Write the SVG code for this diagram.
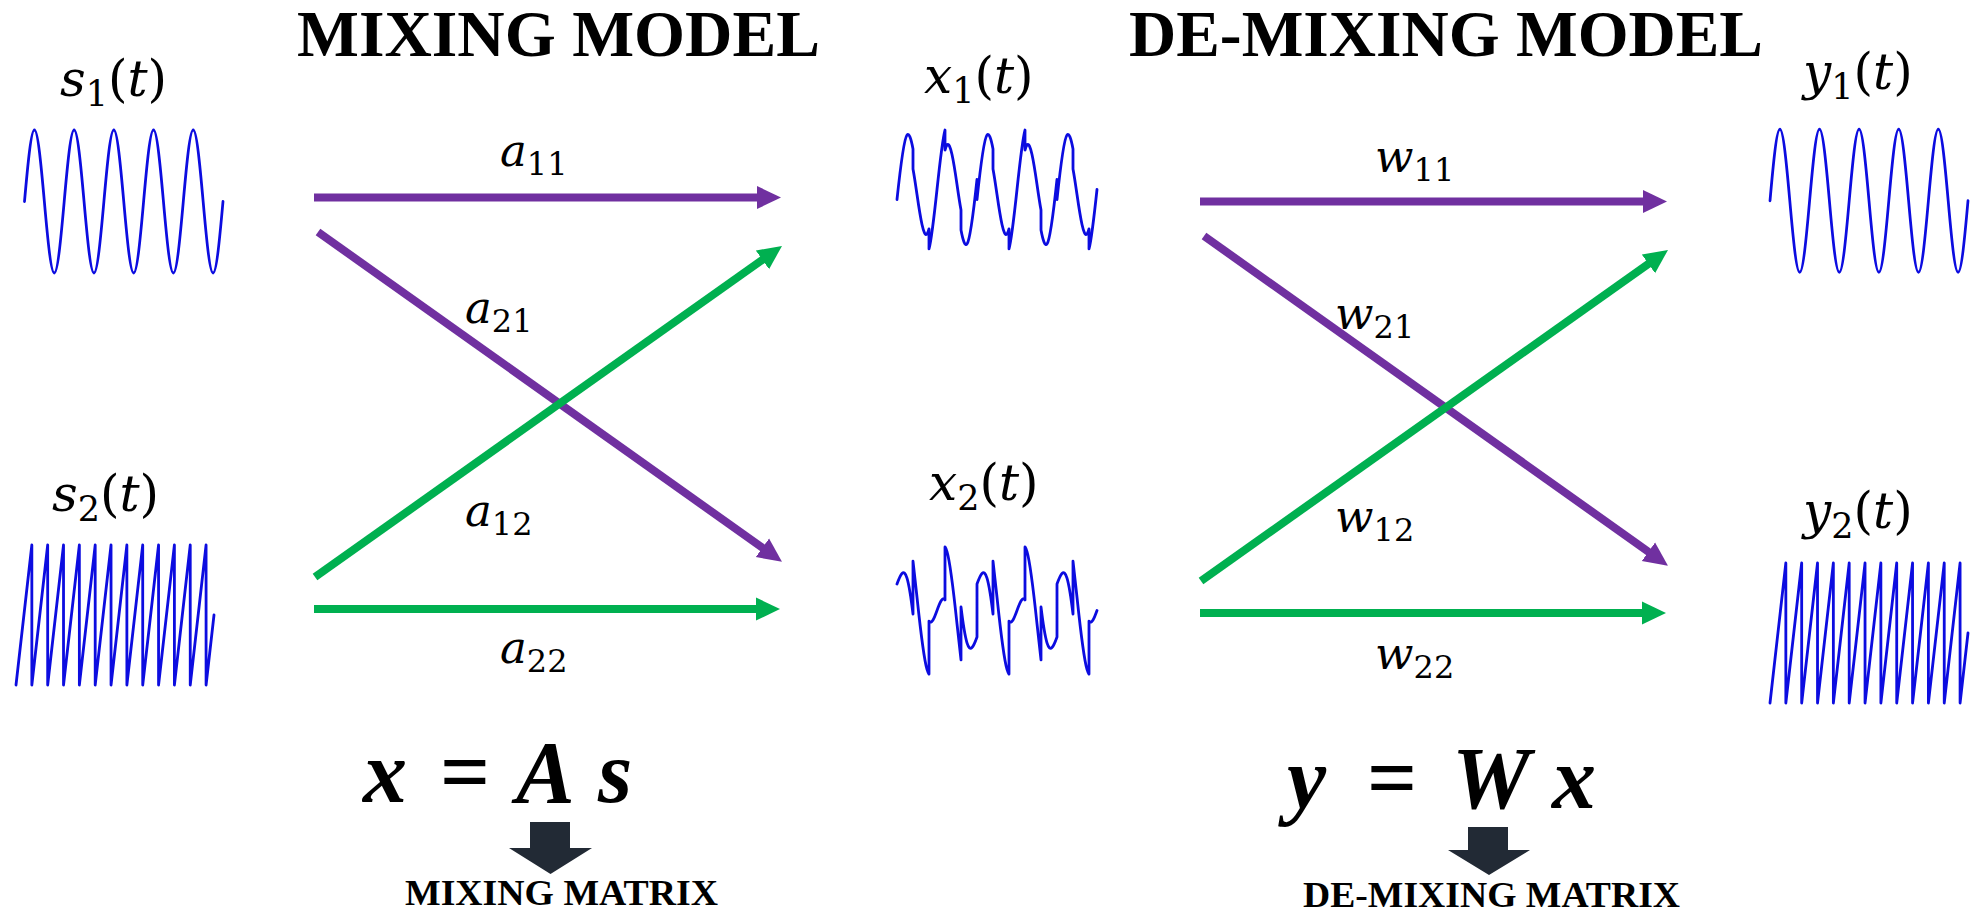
<svg xmlns="http://www.w3.org/2000/svg" width="1972" height="913" viewBox="0 0 1972 913">
<style>
.title{font-family:"Liberation Serif",serif;font-weight:bold;font-size:65px;fill:#000}
.lbl{font-family:"DejaVu Serif",serif;font-size:50px;fill:#000}
.coef{font-family:"DejaVu Serif",serif;font-size:45px;fill:#000}
.it{font-style:italic}
.sub{font-size:35px}
.csub{font-size:32px}
.wave{fill:none;stroke:#0c0ce0;stroke-width:2.8;stroke-linejoin:round;stroke-linecap:round}
.arr{fill:none;stroke-width:8;stroke-linecap:butt}
.pur{stroke:#7030a0}
.grn{stroke:#00b050}
.eq{font-family:"Liberation Serif",serif;font-weight:bold;font-style:italic;font-size:88px;fill:#000}
.eqs{font-family:"Liberation Serif",serif;font-weight:bold;font-size:88px;fill:#000}
.mat{font-family:"Liberation Serif",serif;font-weight:bold;font-size:35px;fill:#000}
.blk{fill:#222a35}
</style>
<defs>
<marker id="hp" markerUnits="userSpaceOnUse" markerWidth="24" markerHeight="24" viewBox="0 0 24 24" refX="12" refY="12" orient="auto"><path d="M0,0.5 L24,12 L0,23.5 z" fill="#7030a0"/></marker>
<marker id="hg" markerUnits="userSpaceOnUse" markerWidth="24" markerHeight="24" viewBox="0 0 24 24" refX="12" refY="12" orient="auto"><path d="M0,0.5 L24,12 L0,23.5 z" fill="#00b050"/></marker>
<path id="sine5" d="M0,0 c3.333,-37.44 6.667,-71.5 10,-71.5 c3.333,0 6.667,34.06 10,71.5 c3.333,37.44 6.667,71.5 10,71.5 c3.333,0 6.667,-34.06 10,-71.5 c3.333,-37.44 6.667,-71.5 10,-71.5 c3.333,0 6.667,34.06 10,71.5 c3.333,37.44 6.667,71.5 10,71.5 c3.333,0 6.667,-34.06 10,-71.5 c3.333,-37.44 6.667,-71.5 10,-71.5 c3.333,0 6.667,34.06 10,71.5 c3.333,37.44 6.667,71.5 10,71.5 c3.333,0 6.667,-34.06 10,-71.5 c3.333,-37.44 6.667,-71.5 10,-71.5 c3.333,0 6.667,34.06 10,71.5 c3.333,37.44 6.667,71.5 10,71.5 c3.333,0 6.667,-34.06 10,-71.5 c3.333,-37.44 6.667,-71.5 10,-71.5 c3.333,0 6.667,34.06 10,71.5 c3.333,37.44 6.667,71.5 10,71.5 c3.333,0 6.667,-34.06 10,-71.5"/>
<path id="saw" d="M0,0 l15.84,-140 v140 l15.84,-140 v140 l15.84,-140 v140 l15.84,-140 v140 l15.84,-140 v140 l15.84,-140 v140 l15.84,-140 v140 l15.84,-140 v140 l15.84,-140 v140 l15.84,-140 v140 l15.84,-140 v140 l15.84,-140 v140 l7.92,-70"/>
</defs>
<rect width="1972" height="913" fill="#fff"/>

<g id="titles">
<text class="title" x="297" y="56" textLength="523" lengthAdjust="spacingAndGlyphs">MIXING MODEL</text>
<text class="title" x="1129" y="56" textLength="634" lengthAdjust="spacingAndGlyphs">DE-MIXING MODEL</text>
</g>

<g id="node-s1">
<text class="lbl" x="60" y="96"><tspan class="it">s</tspan><tspan class="sub" dy="10">1</tspan><tspan dy="-10">(</tspan><tspan class="it">t</tspan>)</text>
<use href="#sine5" class="wave" transform="translate(24.5,201.5) scale(0.9925,1)"/>
</g>
<g id="node-s2">
<text class="lbl" x="52" y="511"><tspan class="it">s</tspan><tspan class="sub" dy="10">2</tspan><tspan dy="-10">(</tspan><tspan class="it">t</tspan>)</text>
<use href="#saw" class="wave" transform="translate(16,685)"/>
</g>
<g id="node-x1">
<text class="lbl" x="924" y="93"><tspan class="it">x</tspan><tspan class="sub" dy="10">1</tspan><tspan dy="-10">(</tspan><tspan class="it">t</tspan>)</text>
<path class="wave" d="M897,199.5 c3.33,-31.4 6.67,-60.33 10,-64.5 c2,-2.5 4,3.22 6,13.93 l0,20 c1.33,7.14 2.67,16.35 4,25.57 c3.33,23.06 6.67,43.67 10,39.5 c0.67,-0.83 1.33,-2.53 2,-5.04 l0,20 c2.67,-10.06 5.33,-34.35 8,-59.46 c2.67,-25.11 5.33,-49.4 8,-59.46 l0,20 c0.67,-2.51 1.33,-4.21 2,-5.04 c3.33,-4.17 6.67,16.44 10,39.5 c1.33,9.22 2.67,18.43 4,25.57 l0,20 c2,10.71 4,16.43 6,13.93 c3.33,-4.17 6.67,-33.1 10,-64.5 l0,20 c3.33,-31.4 6.67,-60.33 10,-64.5 c2,-2.5 4,3.22 6,13.93 l0,20 c1.33,7.14 2.67,16.35 4,25.57 c3.33,23.06 6.67,43.67 10,39.5 c0.67,-0.83 1.33,-2.53 2,-5.04 l0,20 c2.67,-10.06 5.33,-34.35 8,-59.46 c2.67,-25.11 5.33,-49.4 8,-59.46 l0,20 c0.67,-2.51 1.33,-4.21 2,-5.04 c3.33,-4.17 6.67,16.44 10,39.5 c1.33,9.22 2.67,18.43 4,25.57 l0,20 c2,10.71 4,16.43 6,13.93 c3.33,-4.17 6.67,-33.1 10,-64.5 l0,20 c3.33,-31.4 6.67,-60.33 10,-64.5 c2,-2.5 4,3.22 6,13.93 l0,20 c1.33,7.14 2.67,16.35 4,25.57 c3.33,23.06 6.67,43.67 10,39.5 c0.67,-0.83 1.33,-2.53 2,-5.04 l0,20 c2.67,-10.06 5.33,-34.35 8,-59.46"/>
</g>
<g id="node-x2">
<text class="lbl" x="929" y="500"><tspan class="it">x</tspan><tspan class="sub" dy="10">2</tspan><tspan dy="-10">(</tspan><tspan class="it">t</tspan>)</text>
<path class="wave" d="M897,584 c3.33,-9.38 6.67,-16.92 10,-5.87 c2,6.62 4,19.41 6,35.95 l0,-53 c1.33,11.02 2.67,23.58 4,36.17 c3.33,31.46 6.67,61.08 10,72.13 c0.67,2.2 1.33,3.77 2,4.71 l0,-53 c2.67,3.79 5.33,-3.08 8,-10.59 c2.67,-7.51 5.33,-14.38 8,-10.59 l0,-53 c0.67,0.94 1.33,2.51 2,4.71 c3.33,11.05 6.67,40.67 10,72.13 c1.33,12.59 2.67,25.15 4,36.17 l0,-53 c2,16.54 4,29.33 6,35.96 c3.33,11.04 6.67,3.5 10,-5.88 l0,-53 c3.33,-9.38 6.67,-16.92 10,-5.87 c2,6.62 4,19.41 6,35.95 l0,-53 c1.33,11.02 2.67,23.58 4,36.17 c3.33,31.46 6.67,61.08 10,72.13 c0.67,2.2 1.33,3.77 2,4.71 l0,-53 c2.67,3.79 5.33,-3.08 8,-10.59 c2.67,-7.51 5.33,-14.38 8,-10.59 l0,-53 c0.67,0.94 1.33,2.51 2,4.71 c3.33,11.05 6.67,40.67 10,72.13 c1.33,12.59 2.67,25.15 4,36.17 l0,-53 c2,16.54 4,29.33 6,35.96 c3.33,11.04 6.67,3.5 10,-5.88 l0,-53 c3.33,-9.38 6.67,-16.92 10,-5.87 c2,6.62 4,19.41 6,35.95 l0,-53 c1.33,11.02 2.67,23.58 4,36.17 c3.33,31.46 6.67,61.08 10,72.13 c0.67,2.2 1.33,3.77 2,4.71 l0,-53 c2.67,3.79 5.33,-3.08 8,-10.59"/>
</g>
<g id="node-y1">
<text class="lbl" x="1803" y="89"><tspan class="it">y</tspan><tspan class="sub" dy="10">1</tspan><tspan dy="-10">(</tspan><tspan class="it">t</tspan>)</text>
<use href="#sine5" class="wave" transform="translate(1770,200.75) scale(0.99,1)"/>
</g>
<g id="node-y2">
<text class="lbl" x="1803" y="528"><tspan class="it">y</tspan><tspan class="sub" dy="10">2</tspan><tspan dy="-10">(</tspan><tspan class="it">t</tspan>)</text>
<use href="#saw" class="wave" transform="translate(1770,703)"/>
</g>

<g id="connectors">
<path class="arr pur" d="M314,197.5 L769,197.5" marker-end="url(#hp)"/>
<path class="arr pur" d="M318,232 L772.2,554.7" marker-end="url(#hp)"/>
<path class="arr grn" d="M315,577 L772.2,252.9" marker-end="url(#hg)"/>
<path class="arr grn" d="M314,609 L768,609" marker-end="url(#hg)"/>
<path class="arr pur" d="M1200,201.5 L1655,201.5" marker-end="url(#hp)"/>
<path class="arr pur" d="M1204,236 L1658.2,558.7" marker-end="url(#hp)"/>
<path class="arr grn" d="M1201,581 L1658.2,256.9" marker-end="url(#hg)"/>
<path class="arr grn" d="M1200,613 L1654,613" marker-end="url(#hg)"/>
</g>

<g id="connector-labels">
<text class="coef" x="500" y="166"><tspan class="it">a</tspan><tspan class="csub" dy="9">11</tspan></text>
<text class="coef" x="465" y="323"><tspan class="it">a</tspan><tspan class="csub" dy="9">21</tspan></text>
<text class="coef" x="465" y="526"><tspan class="it">a</tspan><tspan class="csub" dy="9">12</tspan></text>
<text class="coef" x="500" y="663"><tspan class="it">a</tspan><tspan class="csub" dy="9">22</tspan></text>
<text class="coef" x="1375" y="172"><tspan class="it">w</tspan><tspan class="csub" dy="9">11</tspan></text>
<text class="coef" x="1335" y="329"><tspan class="it">w</tspan><tspan class="csub" dy="9">21</tspan></text>
<text class="coef" x="1335" y="532"><tspan class="it">w</tspan><tspan class="csub" dy="9">12</tspan></text>
<text class="coef" x="1375" y="669"><tspan class="it">w</tspan><tspan class="csub" dy="9">22</tspan></text>
</g>

<g id="eq-mixing">
<text class="eq" x="363" y="802">x</text>
<text class="eqs" x="440" y="802">=</text>
<text class="eq" x="516" y="802">A</text>
<text class="eq" x="598" y="802">s</text>
<polygon class="blk" points="530,822 570,822 570,848 592,848 550.5,874 509,848 530,848"/>
<text class="mat" x="405" y="905" textLength="313" lengthAdjust="spacingAndGlyphs">MIXING MATRIX</text>
</g>
<g id="eq-demixing">
<text class="eq" x="1287" y="808">y</text>
<text class="eqs" x="1367" y="808">=</text>
<text class="eq" x="1452" y="808">W</text>
<text class="eq" x="1552" y="808">x</text>
<polygon class="blk" points="1468,827 1508,827 1508,850 1530,850 1489,875 1448,850 1468,850"/>
<text class="mat" x="1303" y="907" textLength="377" lengthAdjust="spacingAndGlyphs">DE-MIXING MATRIX</text>
</g>
</svg>
